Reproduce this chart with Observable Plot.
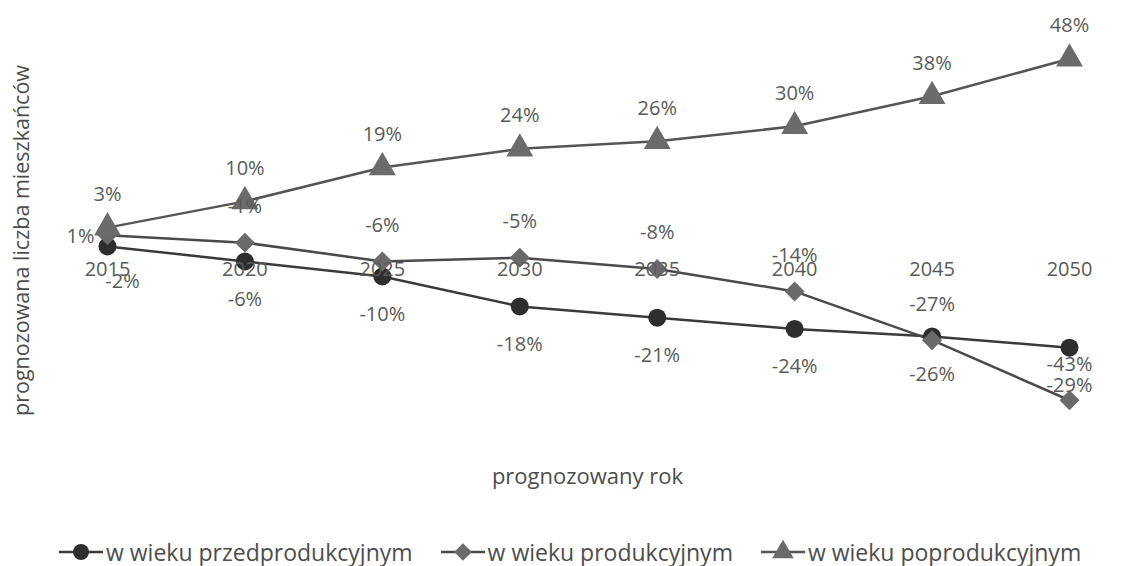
<!DOCTYPE html>
<html>
<head>
<meta charset="utf-8">
<script src="https://cdn.jsdelivr.net/npm/d3@7"></script>
<script src="https://cdn.jsdelivr.net/npm/@observablehq/plot@0.6"></script>
<style>
  body { margin: 0; background: #fff; font-family: "Open Sans", sans-serif; overflow: hidden; }
  #legend { display: flex; justify-content: flex-start; align-items: center; height: 40px; margin-top: 32px; padding-left: 59px; color: #4d4d4d; font-size: 23px; white-space: nowrap; }
  .item { display: flex; align-items: center; margin-right: 28px; }
  .item svg { margin-right: 3px; }
</style>
</head>
<body>
<div id="chart"></div>
<div id="legend"></div>
<script>
const years = [2015, 2020, 2025, 2030, 2035, 2040, 2045, 2050];
const przedprodukcyjny = [-2, -6, -10, -18, -21, -24, -26, -29];
const produkcyjny = [1, -1, -6, -5, -8, -14, -27, -43];
const poprodukcyjny = [3, 10, 19, 24, 26, 30, 38, 48];
const seriesNames = ["w wieku przedprodukcyjnym", "w wieku produkcyjnym", "w wieku poprodukcyjnym"];

const mk = (vals, name) => years.map((y, i) => ({year: y, value: vals[i], series: name}));
const s1 = mk(przedprodukcyjny, seriesNames[0]);
const s2 = mk(produkcyjny, seriesNames[1]);
const s3 = mk(poprodukcyjny, seriesNames[2]);

const lineColor = "#4a4a4a";
const textColor = "#5a5a5a";
const fmt = d => d.value + "%";
const first = d => d.year === years[0];
const rest = d => d.year !== years[0];
const fs = 20;

const chart = Plot.plot({
  width: 1130,
  height: 500,
  marginLeft: 107,
  marginRight: 61,
  marginTop: 32,
  marginBottom: 74,
  style: {fontFamily: "Open Sans, sans-serif", background: "#fff"},
  x: {domain: [2015, 2050], axis: null},
  y: {domain: [-50, 55], axis: null},
  marks: [
    Plot.line(s1, {x: "year", y: "value", stroke: "#3a3a3a", strokeWidth: 2.5}),
    Plot.line(s2, {x: "year", y: "value", stroke: lineColor, strokeWidth: 2.5}),
    Plot.line(s3, {x: "year", y: "value", stroke: "#555", strokeWidth: 2.5}),
    Plot.dot(s1, {x: "year", y: "value", r: 9, fill: "#2e2e2e", symbol: "circle"}),
    Plot.dot(s2, {x: "year", y: "value", r: 9, fill: "#6a6a6a", symbol: "diamond2"}),
    Plot.dot(s3, {x: "year", y: "value", r: 10, fill: "#6b6b6b", symbol: "triangle"}),
    // year tick labels at the zero line
    Plot.text(years, {x: d => d, y: () => 0, dy: 31, text: d => String(d), fontSize: fs, fill: textColor}),
    // data labels
    Plot.text(s3, {x: "year", y: "value", text: fmt, dy: -33, fontSize: fs, fill: textColor}),
    Plot.text(s2, {filter: rest, x: "year", y: "value", text: fmt, dy: -36, fontSize: fs, fill: textColor}),
    Plot.text(s2, {filter: first, x: "year", y: "value", text: fmt, dx: -27, dy: 1, fontSize: fs, fill: textColor}),
    Plot.text(s1, {filter: rest, x: "year", y: "value", text: fmt, dy: 38, fontSize: fs, fill: textColor}),
    Plot.text(s1, {filter: first, x: "year", y: "value", text: fmt, dx: 15, dy: 35, fontSize: fs, fill: textColor}),
    // axis titles
    Plot.text(["prognozowana liczba mieszkańców"], {frameAnchor: "left", textAnchor: "middle", rotate: -90, dx: -85, dy: 11, fontSize: 21.5, fill: "#4d4d4d"}),
    Plot.text(["prognozowany rok"], {frameAnchor: "bottom", dy: 57, dx: -1, fontSize: 22, fill: "#4d4d4d"})
  ]
});
document.getElementById("chart").appendChild(chart);

// legend
const legend = document.getElementById("legend");
const legendStyles = [
  {stroke: "#3a3a3a", fill: "#2e2e2e", symbol: d3.symbolCircle, size: 200},
  {stroke: lineColor, fill: "#6a6a6a", symbol: d3.symbolDiamond2, size: 200},
  {stroke: "#555", fill: "#6b6b6b", symbol: d3.symbolTriangle, size: 200}
];
seriesNames.forEach((name, i) => {
  const st = legendStyles[i];
  const item = document.createElement("div");
  item.className = "item";
  const svg = d3.create("svg").attr("width", 44).attr("height", 24);
  svg.append("line").attr("x1", 0).attr("x2", 44).attr("y1", 12).attr("y2", 12).attr("stroke", st.stroke).attr("stroke-width", 2.5);
  svg.append("path").attr("transform", "translate(22,12)").attr("d", d3.symbol(st.symbol, st.size)()).attr("fill", st.fill);
  item.appendChild(svg.node());
  const span = document.createElement("span");
  span.textContent = name;
  item.appendChild(span);
  legend.appendChild(item);
});
</script>
</body>
</html>
